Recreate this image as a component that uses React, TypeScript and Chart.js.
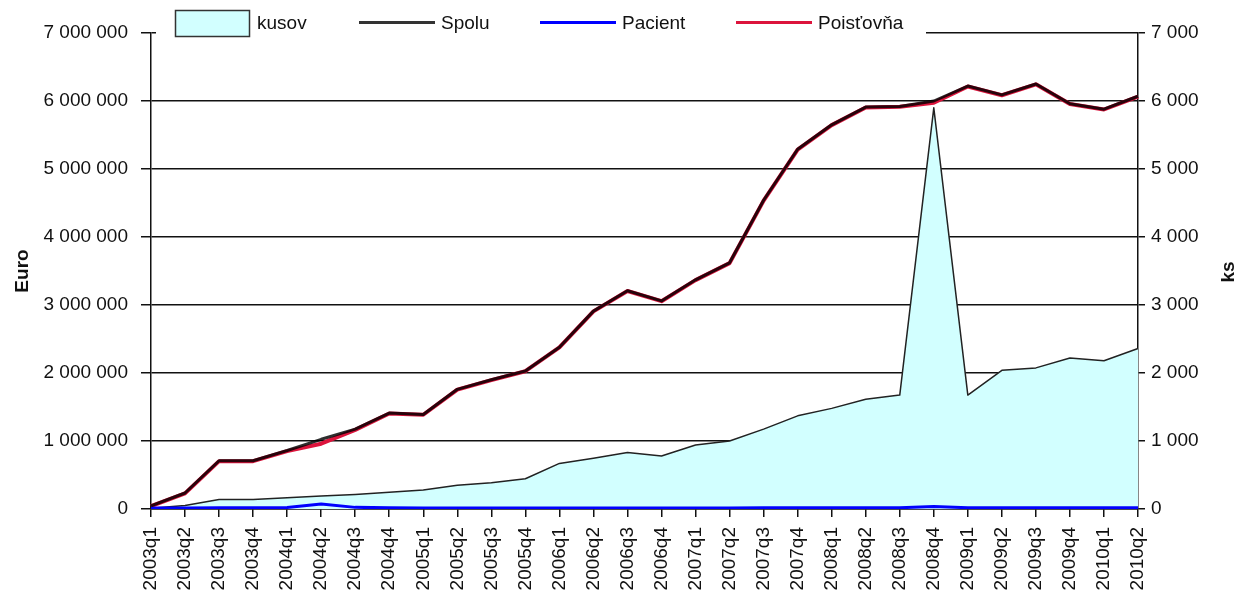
import React, { useEffect, useRef } from 'react';
import { Chart, registerables } from 'chart.js';

Chart.register(...registerables);

const categories = [
  '2003q1', '2003q2', '2003q3', '2003q4',
  '2004q1', '2004q2', '2004q3', '2004q4',
  '2005q1', '2005q2', '2005q3', '2005q4',
  '2006q1', '2006q2', '2006q3', '2006q4',
  '2007q1', '2007q2', '2007q3', '2007q4',
  '2008q1', '2008q2', '2008q3', '2008q4',
  '2009q1', '2009q2', '2009q3', '2009q4',
  '2010q1', '2010q2',
];

// pieces (right axis, ks)
const kusov = [
  10, 50, 140, 140,
  165, 190, 215, 245,
  280, 350, 385, 445,
  670, 745, 830, 780,
  940, 1000, 1175, 1370,
  1480, 1615, 1675, 5900,
  1675, 2040, 2075, 2220,
  2180, 2360,
];

// Euro (left axis)
const spolu = [
  45000, 235000, 710000, 710000,
  860000, 1025000, 1175000, 1410000,
  1390000, 1760000, 1900000, 2030000,
  2380000, 2910000, 3210000, 3060000,
  3370000, 3620000, 4540000, 5290000,
  5650000, 5910000, 5920000, 6000000,
  6220000, 6090000, 6250000, 5960000,
  5880000, 6070000,
];

const pacient = [
  15000, 16000, 17000, 17000,
  22000, 75000, 24000, 17000,
  16000, 16000, 16000, 16000,
  16000, 16000, 16000, 16000,
  16000, 16000, 17000, 17000,
  17000, 17000, 18000, 38000,
  18000, 17000, 17000, 17000,
  17000, 17000,
];

const poistovna = [
  41000, 230000, 704000, 704000,
  851000, 960000, 1163000, 1405000,
  1386000, 1756000, 1896000, 2026000,
  2376000, 2906000, 3206000, 3056000,
  3366000, 3616000, 4535000, 5285000,
  5645000, 5905000, 5914000, 5975000,
  6214000, 6085000, 6245000, 5955000,
  5875000, 6065000,
];

const seriesLabels = ['kusov', 'Spolu', 'Pacient', 'Poisťovňa'];
const axisTitles = { left: 'Euro', right: 'ks' };
const euroMax = 7000000;
const euroStep = 1000000;
const ksMax = 7000;
const ksStep = 1000;

const FONT = '"Liberation Sans", Arial, sans-serif';
const KUSOV_FILL = '#d2ffff';
const SPOLU_LEGEND = '#333333';
const PACIENT_COLOR = '#0000ff';
const POIST_COLOR = '#dc143c';

const fmt = (v: number | string) =>
  String(Math.round(Number(v))).replace(/\B(?=(\d{3})+(?!\d))/g, ' ');

const overlayPlugin = {
  id: 'overlay',
  afterDraw(chart: any) {
    const ctx = chart.ctx as CanvasRenderingContext2D;
    ctx.save();
    // legend background covering the top grid line
    ctx.fillStyle = '#ffffff';
    ctx.fillRect(156, 0, 770, 41);

    ctx.font = `19px ${FONT}`;
    ctx.textBaseline = 'middle';
    ctx.textAlign = 'left';

    // kusov box
    ctx.fillStyle = KUSOV_FILL;
    ctx.fillRect(175, 10, 75, 27);
    ctx.strokeStyle = '#333';
    ctx.lineWidth = 1.5;
    ctx.strokeRect(175.5, 10.5, 74, 26);
    ctx.fillStyle = '#111';
    ctx.fillText(seriesLabels[0], 257, 24);

    const lineItem = (x1: number, x2: number, color: string, text: string) => {
      ctx.beginPath();
      ctx.strokeStyle = color;
      ctx.lineWidth = 3;
      ctx.moveTo(x1, 22.5);
      ctx.lineTo(x2, 22.5);
      ctx.stroke();
      ctx.fillStyle = '#111';
      ctx.fillText(text, x2 + 6, 24);
    };
    lineItem(359, 435, SPOLU_LEGEND, seriesLabels[1]);
    lineItem(540, 616, PACIENT_COLOR, seriesLabels[2]);
    lineItem(736, 812, POIST_COLOR, seriesLabels[3]);

    // axis titles (both read bottom-to-top)
    ctx.font = `bold 19px ${FONT}`;
    ctx.textAlign = 'center';
    ctx.fillStyle = '#111';
    ctx.save();
    ctx.translate(23, 271);
    ctx.rotate(-Math.PI / 2);
    ctx.fillText(axisTitles.left, 0, 0);
    ctx.restore();
    ctx.save();
    ctx.translate(1229, 272);
    ctx.rotate(-Math.PI / 2);
    ctx.fillText(axisTitles.right, 0, 0);
    ctx.restore();

    ctx.restore();
  },
};

export default function App() {
  const canvasRef = useRef<HTMLCanvasElement | null>(null);

  useEffect(() => {
    document.body.style.margin = '0';
    const canvas = canvasRef.current;
    if (!canvas) return;
    const tickFont = { family: FONT, size: 19 };
    const chart = new Chart(canvas, {
      type: 'line',
      data: {
        labels: categories,
        datasets: [
          {
            label: seriesLabels[0],
            data: kusov,
            yAxisID: 'y1',
            fill: 'origin',
            backgroundColor: KUSOV_FILL,
            borderColor: '#222',
            borderWidth: 1.5,
            pointRadius: 0,
            tension: 0,
            borderJoinStyle: 'round',
            order: 5,
          },
          {
            label: seriesLabels[3],
            data: poistovna,
            yAxisID: 'y',
            fill: false,
            borderColor: POIST_COLOR,
            borderWidth: 4,
            pointRadius: 0,
            tension: 0,
            borderJoinStyle: 'round',
            order: 3,
          },
          {
            label: seriesLabels[2],
            data: pacient,
            yAxisID: 'y',
            fill: false,
            borderColor: PACIENT_COLOR,
            borderWidth: 3,
            pointRadius: 0,
            tension: 0,
            borderJoinStyle: 'round',
            order: 2,
          },
          {
            label: seriesLabels[1],
            data: spolu,
            yAxisID: 'y',
            fill: false,
            borderColor: 'rgba(0,0,0,0.82)',
            borderWidth: 3,
            pointRadius: 0,
            tension: 0,
            borderJoinStyle: 'round',
            order: 1,
          },
        ],
      },
      options: {
        responsive: false,
        animation: false,
        layout: { padding: { top: 33, left: 0, right: 0, bottom: 0 } },
        plugins: {
          legend: { display: false },
          tooltip: { enabled: false },
          title: { display: false },
        },
        scales: {
          x: {
            type: 'category',
            offset: false,
            grid: {
              display: true,
              drawOnChartArea: false,
              drawTicks: true,
              tickLength: 8,
              color: '#111',
              lineWidth: 1.5,
            },
            border: { display: true, color: '#111', width: 1.5 },
            ticks: {
              autoSkip: false,
              minRotation: 90,
              maxRotation: 90,
              padding: 10,
              color: '#111',
              font: tickFont,
            },
            afterFit: (s: any) => {
              s.height = 86;
            },
          },
          y: {
            position: 'left',
            min: 0,
            max: euroMax,
            grid: {
              color: '#111',
              lineWidth: 1.5,
              tickLength: 10,
            },
            border: { display: true, color: '#111', width: 1.5 },
            ticks: {
              stepSize: euroStep,
              padding: 13,
              color: '#111',
              font: tickFont,
              callback: (v: any) => fmt(v),
            },
            afterFit: (s: any) => {
              s.width = 151;
            },
          },
          y1: {
            position: 'right',
            min: 0,
            max: ksMax,
            grid: {
              drawOnChartArea: false,
              color: '#111',
              lineWidth: 1.5,
              tickLength: 7,
            },
            border: { display: true, color: '#111', width: 1.5 },
            ticks: {
              stepSize: ksStep,
              padding: 6,
              color: '#111',
              font: tickFont,
              callback: (v: any) => fmt(v),
            },
            afterFit: (s: any) => {
              s.width = 104;
            },
          },
        },
      },
      plugins: [overlayPlugin],
    } as any);
    return () => {
      chart.destroy();
    };
  }, []);

  return (
    <div style={{ width: 1242, height: 595 }}>
      <canvas ref={canvasRef} width={1242} height={595} style={{ display: 'block' }} />
    </div>
  );
}
